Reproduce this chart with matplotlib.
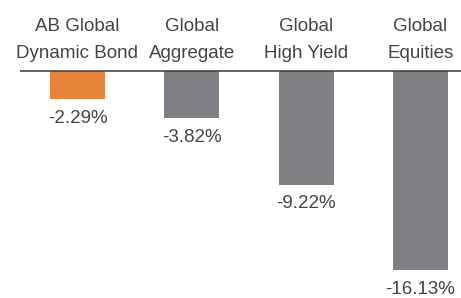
import matplotlib
matplotlib.use("Agg")
import matplotlib.pyplot as plt

categories = ["AB Global\nDynamic Bond", "Global\nAggregate", "Global\nHigh Yield", "Global\nEquities"]
values = [-2.29, -3.82, -9.22, -16.13]
labels = ["-2.29%", "-3.82%", "-9.22%", "-16.13%"]
colors = ["#E8833A", "#808084", "#808084", "#808084"]

W, H = 461, 298
fig = plt.figure(figsize=(W / 100, H / 100), dpi=100)
ax = fig.add_axes([0, 0, 1, 1])

px_x = 114.3   # pixels per category
x0 = 77.5      # pixel of first bar center
px_y = 12.35   # pixels per percent
y0 = 71        # pixel of zero line from top

ax.set_xlim(-x0 / px_x, (W - x0) / px_x)
ax.set_ylim(-(H - y0) / px_y, y0 / px_y)
ax.axis("off")

xs = list(range(len(values)))
ax.bar(xs, values, width=55 / px_x, color=colors, zorder=2)
ax.plot([(20 - x0) / px_x, (W - x0) / px_x], [0, 0], color="#3a3a3a", lw=1.1, zorder=3,
        solid_capstyle="butt")

font = dict(family=["Liberation Sans", "DejaVu Sans"], color="#444444", fontsize=13.5)
for x, c in zip(xs, categories):
    ax.text(x, (y0 - 40) / px_y, c, ha="center", va="center", linespacing=1.72, **font)
for x, v, l in zip(xs, values, labels):
    ax.annotate(l, (x, v), xytext=(0, -7.5), textcoords="offset points",
                ha="center", va="top", **font)

fig.savefig("out.png", dpi=100)
